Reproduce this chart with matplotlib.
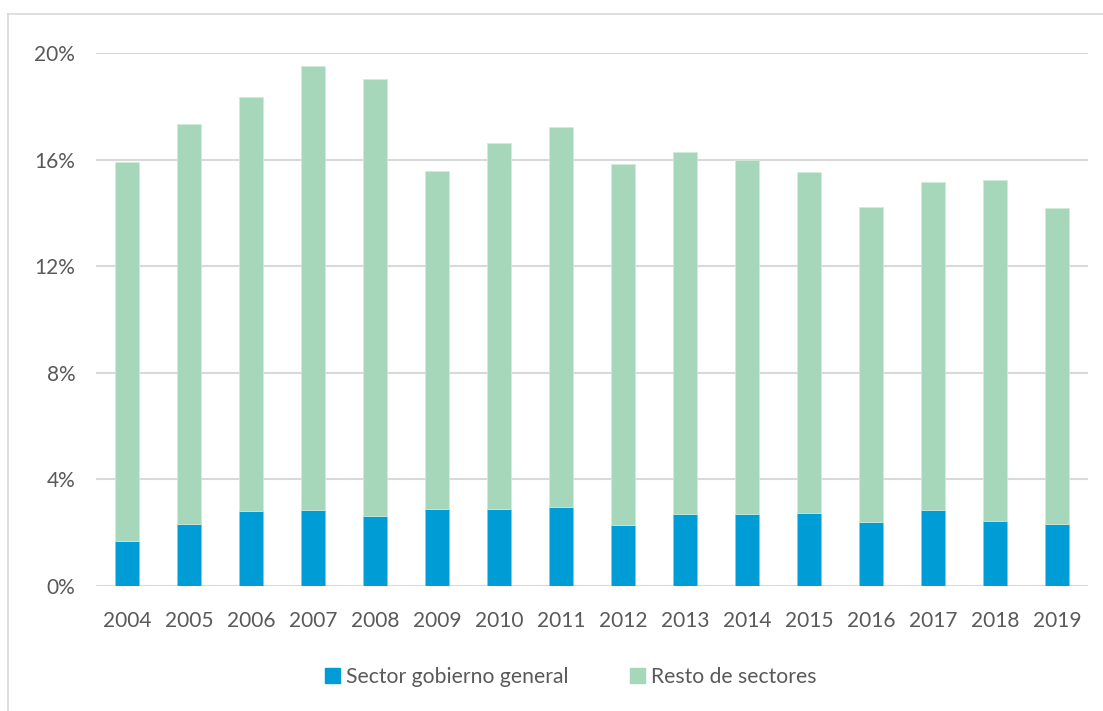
import matplotlib
matplotlib.use("Agg")
import matplotlib.pyplot as plt
from matplotlib.patches import Patch
from matplotlib.lines import Line2D

years = ["2004", "2005", "2006", "2007", "2008", "2009", "2010", "2011",
         "2012", "2013", "2014", "2015", "2016", "2017", "2018", "2019"]
# share of total (%)
gobierno = [1.69, 2.33, 2.81, 2.85, 2.63, 2.89, 2.89, 2.96,
            2.29, 2.70, 2.70, 2.74, 2.40, 2.85, 2.44, 2.33]
total = [15.91, 17.34, 18.35, 19.51, 19.02, 15.57, 16.62, 17.22,
         15.83, 16.28, 15.98, 15.53, 14.22, 15.16, 15.23, 14.18]
resto = [t - g for t, g in zip(total, gobierno)]
yticks = [0, 4, 8, 12, 16, 20]

BLUE = "#009CD6"
GREEN = "#A6D7BA"
TXT = "#595959"
GRID = "#D9D9D9"

plt.rcParams["font.family"] = ["Lato", "DejaVu Sans"]

fig = plt.figure(figsize=(11.03, 7.11), dpi=100)
ax = fig.add_axes([96 / 1103, 125 / 711, (1088 - 96) / 1103, (586 - 53) / 711])

x = range(len(years))
ax.bar(x, gobierno, width=0.4, color=BLUE, edgecolor="#7FCBEA", linewidth=0.5, zorder=3)
ax.bar(x, resto, bottom=gobierno, width=0.4, color=GREEN, edgecolor="#D2EBDD",
       linewidth=0.5, zorder=3)

ax.set_xlim(-0.5, len(years) - 0.5)
ax.set_ylim(0, 20)
ax.set_yticks(yticks)
ax.set_yticklabels([f"{t}%" for t in yticks])
ax.set_xticks(list(x))
ax.set_xticklabels(years)
ax.grid(axis="y", color=GRID, linewidth=1.5, zorder=0)
ax.tick_params(axis="both", length=0, labelsize=15, colors=TXT)
ax.tick_params(axis="x", pad=18)
ax.tick_params(axis="y", pad=15)
for s in ax.spines.values():
    s.set_visible(False)

handles = [Patch(color=BLUE, label="Sector gobierno general"),
           Patch(color=GREEN, label="Resto de sectores")]
leg = fig.legend(handles=handles, loc="center", bbox_to_anchor=(571 / 1103, 1 - 677 / 711),
                 ncol=2, frameon=False, fontsize=15.2, handlelength=0.7, handleheight=0.7,
                 handletextpad=0.3, columnspacing=2.9)
for t in leg.get_texts():
    t.set_color(TXT)

# outer frame (top and left edges visible in the source)
fig.add_artist(Line2D([8 / 1103, 1], [1 - 14 / 711, 1 - 14 / 711], color=GRID, lw=1.2))
fig.add_artist(Line2D([8 / 1103, 8 / 1103], [0, 1 - 14 / 711], color=GRID, lw=1.2))

fig.savefig("out.png", dpi=100)
